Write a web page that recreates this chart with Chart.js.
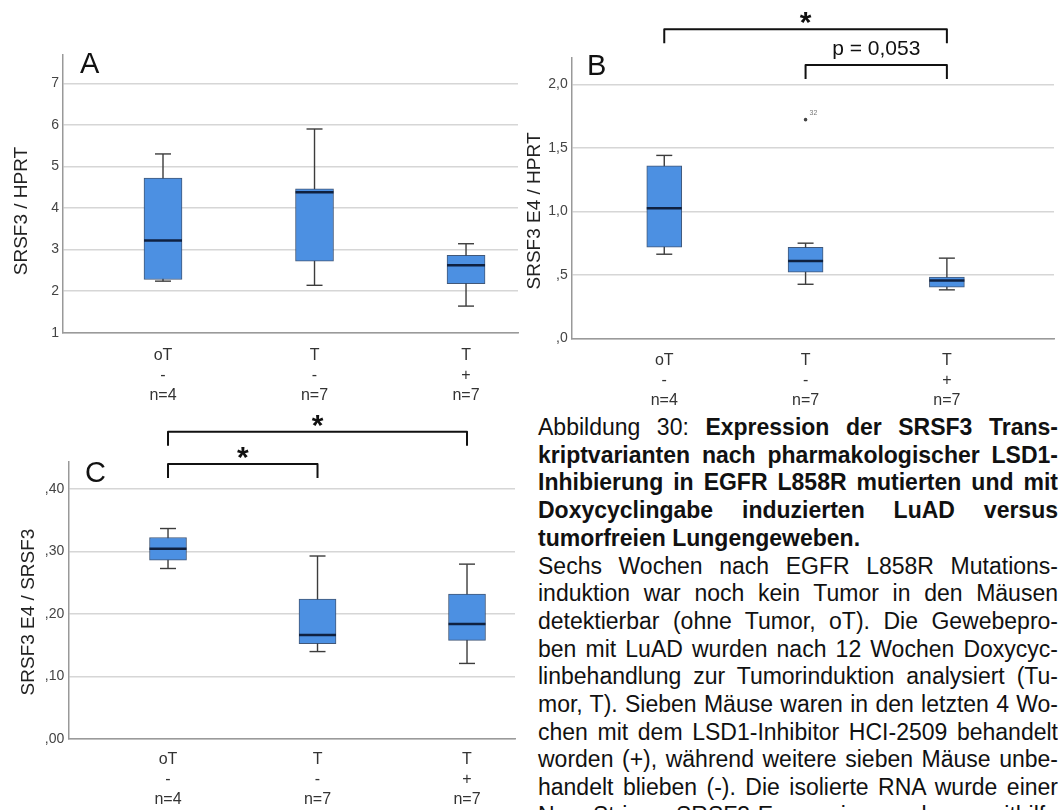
<!DOCTYPE html>
<html>
<head>
<meta charset="utf-8">
<script src="https://cdn.jsdelivr.net/npm/chart.js@4.4.1/dist/chart.umd.min.js"></script>
<style>
  html, body { margin: 0; padding: 0; background: #fff; width: 1058px; height: 810px; overflow: hidden; }
  canvas { position: absolute; }
  #caption {
    position: absolute; left: 538px; top: 414px; width: 520px;
    font-family: "Liberation Sans", Arial, sans-serif; font-size: 23px; line-height: 27.7px; color: #111;
  }
  #caption div { text-align: justify; text-align-last: justify; }
  #caption div.end { text-align-last: left; }
</style>
</head>
<body>
<canvas id="chartA" width="520" height="410" style="left:0;top:0"></canvas>
<canvas id="chartB" width="538" height="410" style="left:520px;top:0"></canvas>
<canvas id="chartC" width="520" height="410" style="left:0;top:400px"></canvas>

<div id="caption">
  <div>Abbildung 30: <b>Expression der SRSF3 Trans-</b></div>
  <div><b>kriptvarianten nach pharmakologischer LSD1-</b></div>
  <div><b>Inhibierung in EGFR L858R mutierten und mit</b></div>
  <div><b>Doxycyclingabe induzierten LuAD versus</b></div>
  <div class="end"><b>tumorfreien Lungengeweben.</b></div>
  <div>Sechs Wochen nach EGFR L858R Mutations-</div>
  <div>induktion war noch kein Tumor in den Mäusen</div>
  <div>detektierbar (ohne Tumor, oT). Die Gewebepro-</div>
  <div>ben mit LuAD wurden nach 12 Wochen Doxycyc-</div>
  <div>linbehandlung zur Tumorinduktion analysiert (Tu-</div>
  <div>mor, T). Sieben Mäuse waren in den letzten 4 Wo-</div>
  <div>chen mit dem LSD1-Inhibitor HCI-2509 behandelt</div>
  <div>worden (+), während weitere sieben Mäuse unbe-</div>
  <div>handelt blieben (-). Die isolierte RNA wurde einer</div>
  <div>NanoString SRSF3-Expressionsanalyse mithilfe</div>
</div>

<script>
// groups on the x axis
const groups = ['oT', 'T', 'T'];
const treatment = ['-', '-', '+'];
const nCounts = [4, 7, 7];

// A: SRSF3 / HPRT
const aMin = [2.24, 2.14, 1.64];
const aQ1 = [2.28, 2.72, 2.18];
const aMedian = [3.22, 4.38, 2.62];
const aQ3 = [4.72, 4.46, 2.86];
const aMax = [5.30, 5.90, 3.14];
const aTicks = [1, 2, 3, 4, 5, 6, 7];
const aTickLabels = ['1', '2', '3', '4', '5', '6', '7'];

// B: SRSF3 E4 / HPRT
const bMin = [0.663, 0.426, 0.382];
const bQ1 = [0.718, 0.521, 0.403];
const bMedian = [1.026, 0.61, 0.455];
const bQ3 = [1.36, 0.718, 0.482];
const bMax = [1.442, 0.75, 0.632];
const bOutlierGroup = [1];
const bOutlierValue = [1.724];
const bOutlierCase = ['32'];
const bTicks = [0, 0.5, 1, 1.5, 2];
const bTickLabels = [',0', ',5', '1,0', '1,5', '2,0'];
const bBracketFrom = [0, 1];
const bBracketTo = [2, 2];
const bBracketLevel = [2.437, 2.155];
const bBracketText = ['*', 'p = 0,053'];

// C: SRSF3 E4 / SRSF3
const cMin = [0.273, 0.140, 0.121];
const cQ1 = [0.2864, 0.1525, 0.158];
const cMedian = [0.3045, 0.1664, 0.184];
const cQ3 = [0.3227, 0.224, 0.232];
const cMax = [0.337, 0.293, 0.28];
const cTicks = [0, 0.1, 0.2, 0.3, 0.4];
const cTickLabels = [',00', ',10', ',20', ',30', ',40'];
const cBracketFrom = [0, 0];
const cBracketTo = [2, 1];
const cBracketLevel = [0.492, 0.4403];
const cBracketText = ['*', '*'];

const FONT = '"Liberation Sans", Arial, sans-serif';
const BOX_FILL = 'rgb(76, 144, 226)';
const BOX_EDGE = 'rgba(45, 70, 105, 0.9)';

function textCentered(ctx, str, cx, cy) {
  const m = ctx.measureText(str);
  ctx.fillText(str, cx, cy + (m.actualBoundingBoxAscent - m.actualBoundingBoxDescent) / 2);
}

function boxPlot(id, p) {
  const plugin = {
    id: 'boxplot' + id,
    beforeDatasetsDraw(chart) {
      const { ctx, scales: { x, y } } = chart;
      ctx.save();
      ctx.strokeStyle = '#3c3c3c';
      ctx.lineWidth = 1.4;
      p.median.forEach((m, i) => {
        const px = x.getPixelForValue(i);
        ctx.beginPath();
        ctx.moveTo(px, y.getPixelForValue(p.min[i]));
        ctx.lineTo(px, y.getPixelForValue(p.max[i]));
        ctx.stroke();
      });
      ctx.restore();
    },
    afterDatasetsDraw(chart) {
      const { ctx, scales: { x, y } } = chart;
      ctx.save();
      // whisker caps
      ctx.strokeStyle = '#3c3c3c';
      ctx.lineWidth = 1.4;
      p.median.forEach((m, i) => {
        const px = x.getPixelForValue(i);
        [p.min[i], p.max[i]].forEach(v => {
          const py = y.getPixelForValue(v);
          ctx.beginPath();
          ctx.moveTo(px - 8, py);
          ctx.lineTo(px + 8, py);
          ctx.stroke();
        });
      });
      // medians
      ctx.strokeStyle = '#0f2140';
      ctx.lineWidth = 2.5;
      p.median.forEach((m, i) => {
        const px = x.getPixelForValue(i);
        const py = y.getPixelForValue(m);
        ctx.beginPath();
        ctx.moveTo(px - p.barWidth / 2, py);
        ctx.lineTo(px + p.barWidth / 2, py);
        ctx.stroke();
      });
      // outlier case numbers
      if (p.outGroup) {
        ctx.fillStyle = '#777';
        ctx.font = '7px ' + FONT;
        p.outGroup.forEach((g, i) => {
          ctx.fillText(p.outCase[i], x.getPixelForValue(g) + 4, y.getPixelForValue(p.outValue[i]) - 5);
        });
      }
      ctx.restore();
    },
    afterDraw(chart) {
      const { ctx, scales: { x, y } } = chart;
      ctx.save();
      // significance brackets
      if (p.brFrom) {
        ctx.strokeStyle = '#111';
        ctx.fillStyle = '#111';
        ctx.lineWidth = 2;
        ctx.lineJoin = 'round';
        p.brFrom.forEach((f, i) => {
          const x1 = x.getPixelForValue(f);
          const x2 = x.getPixelForValue(p.brTo[i]);
          const py = y.getPixelForValue(p.brLevel[i]);
          ctx.beginPath();
          ctx.moveTo(x1, py + 14);
          ctx.lineTo(x1, py);
          ctx.lineTo(x2, py);
          ctx.lineTo(x2, py + 14);
          ctx.stroke();
          const star = p.brText[i] === '*';
          ctx.font = star ? 'bold 30px ' + FONT : '21px ' + FONT;
          ctx.textAlign = 'center';
          textCentered(ctx, p.brText[i], (x1 + x2) / 2, py - (star ? 11 : 15));
        });
      }
      // panel letter
      ctx.fillStyle = '#111';
      ctx.font = '29px ' + FONT;
      ctx.textAlign = 'left';
      ctx.fillText(p.letter, p.letterX, p.letterY);
      // y axis title
      ctx.fillStyle = '#222';
      ctx.font = '19px ' + FONT;
      ctx.translate(p.titleX, p.titleY);
      ctx.rotate(-Math.PI / 2);
      ctx.textAlign = 'center';
      textCentered(ctx, p.title, 0, 0);
      ctx.restore();
    }
  };

  const datasets = [{
    type: 'bar',
    data: p.q1.map((q, i) => ({ x: i, y: [q, p.q3[i]] })),
    backgroundColor: BOX_FILL,
    borderColor: BOX_EDGE,
    borderWidth: 1,
    borderSkipped: false,
    barThickness: p.barWidth
  }];
  if (p.outGroup) {
    datasets.push({
      type: 'scatter',
      data: p.outGroup.map((g, i) => ({ x: g, y: p.outValue[i] })),
      pointRadius: 1.8,
      pointBackgroundColor: '#444',
      pointBorderWidth: 0
    });
  }

  return new Chart(document.getElementById(id), {
    type: 'bar',
    data: { datasets },
    plugins: [plugin],
    options: {
      responsive: false,
      animation: false,
      layout: { padding: { left: 0, top: p.top, right: p.right, bottom: 0 } },
      plugins: { legend: { display: false }, tooltip: { enabled: false } },
      scales: {
        x: {
          type: 'linear',
          offset: false,
          min: p.xMin,
          max: p.xMax,
          afterFit: s => { s.height = p.xHeight; },
          afterBuildTicks: s => { s.ticks = groups.map((g, i) => ({ value: i })); },
          grid: { display: false, drawTicks: false, offset: false },
          border: { color: '#9a9a9a', width: 1.5 },
          ticks: {
            autoSkip: false,
            maxRotation: 0,
            padding: p.xPad,
            color: '#333',
            font: { family: FONT, size: 16, lineHeight: '20px' },
            callback: (v, i) => [groups[i], treatment[i], 'n=' + nCounts[i]]
          }
        },
        y: {
          min: p.yMin,
          max: p.yMax,
          afterFit: s => { s.width = p.yWidth; },
          afterBuildTicks: s => { s.ticks = p.ticks.map(v => ({ value: v })); },
          grid: { color: '#d6d6d6', lineWidth: 1.5, drawTicks: false },
          border: { color: '#999', width: 1.5 },
          ticks: {
            padding: 4,
            color: '#444',
            font: { family: FONT, size: 14 },
            callback: (v, i) => p.tickLabels[i]
          }
        }
      }
    }
  });
}

boxPlot('chartA', {
  min: aMin, q1: aQ1, median: aMedian, q3: aQ3, max: aMax,
  ticks: aTicks, tickLabels: aTickLabels, yMin: 1, yMax: 7.68,
  xMin: -0.66, xMax: 2.343, barWidth: 38,
  top: 55, right: 2, yWidth: 63, xHeight: 77.3, xPad: 13,
  letter: 'A', letterX: 80, letterY: 73,
  title: 'SRSF3 / HPRT', titleX: 20.5, titleY: 211
});

boxPlot('chartB', {
  min: bMin, q1: bQ1, median: bMedian, q3: bQ3, max: bMax,
  outGroup: bOutlierGroup, outValue: bOutlierValue, outCase: bOutlierCase,
  brFrom: bBracketFrom, brTo: bBracketTo, brLevel: bBracketLevel, brText: bBracketText,
  ticks: bTicks, tickLabels: bTickLabels, yMin: 0, yMax: 2.21,
  xMin: -0.655, xMax: 2.758, barWidth: 35,
  top: 58, right: 0, yWidth: 51.7, xHeight: 71.7, xPad: 12,
  letter: 'B', letterX: 67, letterY: 75,
  title: 'SRSF3 E4 / HPRT', titleX: 13, titleY: 211
});

boxPlot('chartC', {
  min: cMin, q1: cQ1, median: cMedian, q3: cQ3, max: cMax,
  brFrom: cBracketFrom, brTo: cBracketTo, brLevel: cBracketLevel, brText: cBracketText,
  ticks: cTicks, tickLabels: cTickLabels, yMin: 0, yMax: 0.444,
  xMin: -0.667, xMax: 2.321, barWidth: 37,
  top: 61.7, right: 5, yWidth: 68.3, xHeight: 71, xPad: 11,
  letter: 'C', letterX: 85, letterY: 82,
  title: 'SRSF3 E4 / SRSF3', titleX: 27, titleY: 212
});
</script>
</body>
</html>
